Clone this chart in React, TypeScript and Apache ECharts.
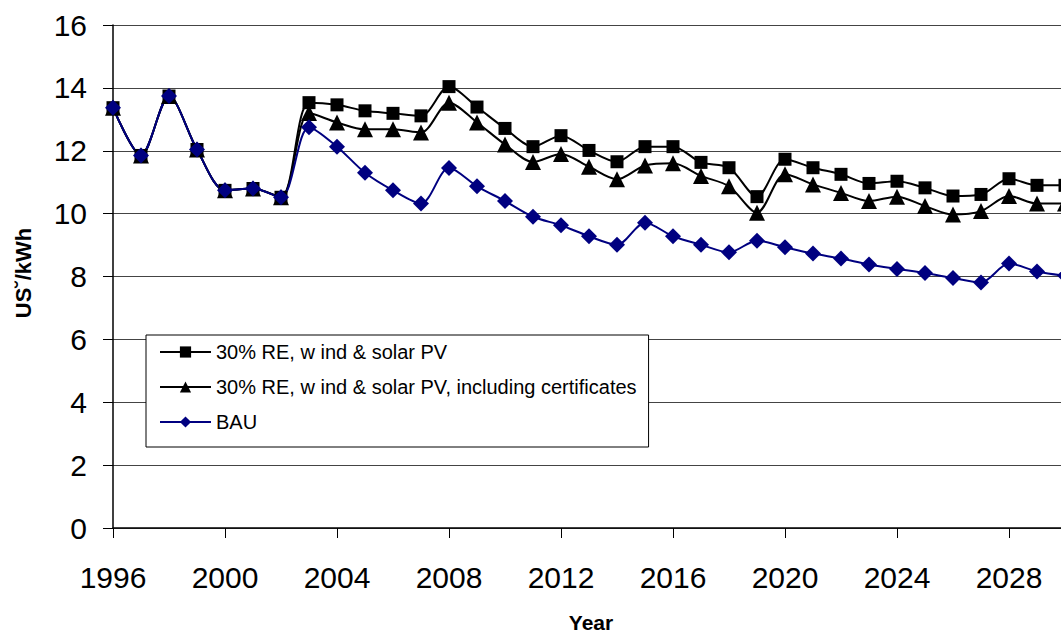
import React, { useEffect, useRef } from "react";
import * as echarts from "echarts";

const years: string[] = [];
for (let y = 1996; y <= 2030; y++) years.push(String(y));

const seriesNames = [
  "30% RE, w ind & solar PV",
  "30% RE, w ind & solar PV, including certificates",
  "BAU",
];

const renewable = [
  13.37, 11.85, 13.74, 12.04, 10.74, 10.8, 10.52, 13.53, 13.46, 13.27, 13.19, 13.11,
  14.04, 13.39, 12.71, 12.13, 12.48, 12.01, 11.65, 12.13, 12.13, 11.63, 11.46, 10.54,
  11.73, 11.46, 11.25, 10.96, 11.03, 10.82, 10.56, 10.61, 11.11, 10.9, 10.9,
];

const certificates = [
  13.37, 11.85, 13.74, 12.04, 10.74, 10.8, 10.52, 13.2, 12.9, 12.68, 12.68, 12.58,
  13.53, 12.9, 12.2, 11.64, 11.9, 11.49, 11.09, 11.53, 11.6, 11.2, 10.87, 10.03,
  11.25, 10.93, 10.66, 10.4, 10.54, 10.24, 9.97, 10.08, 10.56, 10.32, 10.32,
];

const bau = [
  13.37, 11.85, 13.74, 12.04, 10.74, 10.8, 10.52, 12.75, 12.13, 11.3, 10.74, 10.32,
  11.45, 10.87, 10.4, 9.9, 9.63, 9.28, 9.01, 9.71, 9.28, 9.01, 8.77, 9.14,
  8.93, 8.73, 8.57, 8.38, 8.24, 8.11, 7.95, 7.81, 8.41, 8.16, 8.03,
];

const FONT = "'Liberation Sans', Arial, sans-serif";

export default function App() {
  const ref = useRef<HTMLDivElement>(null);

  useEffect(() => {
    if (!ref.current) return;
    const chart = echarts.init(ref.current, undefined, { renderer: "svg" });
    const mk = (name: string, data: number[], symbol: string, size: number, color: string) => ({
      name,
      type: "line",
      data,
      symbol,
      symbolSize: size,
      showAllSymbol: true,
      smooth: 0.3,
      clip: false,
      lineStyle: { color, width: 2 },
      itemStyle: { color, borderColor: color, borderWidth: 0 },
    });
    chart.setOption({
      animation: false,
      backgroundColor: "#ffffff",
      textStyle: { fontFamily: FONT },
      grid: { left: 113, right: 15, top: 25, bottom: 106, containLabel: false },
      xAxis: {
        type: "category",
        data: years,
        boundaryGap: false,
        axisLine: { show: true, lineStyle: { color: "#000", width: 1.5 } },
        axisTick: { show: true, interval: 3, length: 10, lineStyle: { color: "#000", width: 1 } },
        axisLabel: { interval: 3, fontSize: 30, color: "#000", margin: 34, fontFamily: FONT },
        splitLine: { show: false },
      },
      yAxis: {
        type: "value",
        min: 0,
        max: 16,
        interval: 2,
        axisLine: { show: true, lineStyle: { color: "#000", width: 1.5 } },
        axisTick: { show: true, length: 10, lineStyle: { color: "#000", width: 1 } },
        axisLabel: { fontSize: 30, color: "#000", margin: 26, fontFamily: FONT },
        splitLine: { show: true, lineStyle: { color: "#444", width: 1 } },
      },
      legend: {
        orient: "vertical",
        left: 146,
        top: 335,
        padding: [5, 12, 13, 13],
        itemGap: 11,
        itemWidth: 51,
        itemHeight: 14,
        backgroundColor: "#fff",
        borderColor: "#000",
        borderWidth: 1,
        borderRadius: 0,
        textStyle: { fontSize: 20, color: "#000", fontFamily: FONT, lineHeight: 24 },
        data: seriesNames,
      },
      graphic: [
        {
          type: "text",
          x: 591,
          y: 622,
          style: {
            text: "Year",
            font: `bold 21px ${FONT}`,
            fill: "#000",
            align: "center",
            verticalAlign: "middle",
          },
        },
        {
          type: "text",
          x: 23,
          y: 273,
          rotation: Math.PI / 2,
          style: {
            text: "US˘/kWh",
            font: `bold 22px ${FONT}`,
            fill: "#000",
            align: "center",
            verticalAlign: "middle",
          },
        },
      ],
      series: [
        mk(seriesNames[0], renewable, "rect", 13, "#000000"),
        mk(seriesNames[1], certificates, "triangle", 16, "#000000"),
        mk(seriesNames[2], bau, "diamond", 16, "#000080"),
      ],
    });
    return () => chart.dispose();
  }, []);

  return (
    <div
      style={{
        position: "fixed",
        left: 0,
        top: 0,
        width: 1061,
        height: 634,
        overflow: "hidden",
        background: "#fff",
      }}
    >
      <div ref={ref} style={{ width: 1080, height: 634 }} />
    </div>
  );
}
